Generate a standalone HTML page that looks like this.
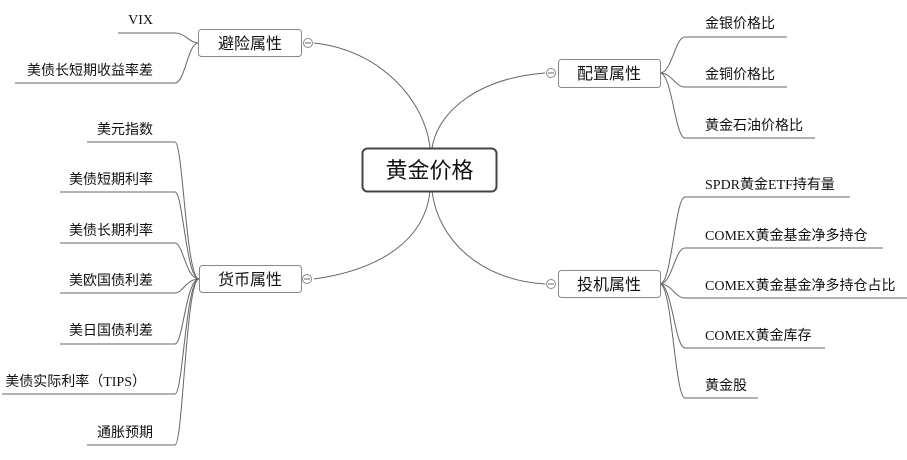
<!DOCTYPE html>
<html><head><meta charset="utf-8"><style>
html,body{margin:0;padding:0;background:#fff;}
svg text{font-family:"Liberation Serif","Noto Sans CJK SC",serif;font-size:14px;fill:#111;}
.b{font-family:"Liberation Sans","Noto Sans CJK SC",sans-serif;font-size:16px;}
</style></head><body>
<svg width="907" height="455" viewBox="0 0 907 455" xmlns="http://www.w3.org/2000/svg">
<g fill="none" stroke="#666" stroke-width="1">
<path d="M314,43 C380,50 425,100 430,148"/>
<path d="M314,279 C380,270 425,240 430,191"/>
<path d="M545,73 C480,78 438,110 432,148"/>
<path d="M545,284 C480,280 438,240 432,191"/>
<path d="M118,33 L175,33 C185,33 190,43 198,43"/>
<path d="M15,83 L175,83 C185,83 188,43 198,43"/>
<path d="M87,142 L175,142 C183,142 186,279 199,279"/>
<path d="M60,192 L175,192 C183,192 186,279 199,279"/>
<path d="M60,243 L175,243 C183,243 186,279 199,279"/>
<path d="M60,293 L175,293 C183,293 186,279 199,279"/>
<path d="M60,344 L175,344 C183,344 186,279 199,279"/>
<path d="M2,394 L175,394 C183,394 186,279 199,279"/>
<path d="M87,445 L175,445 C183,445 186,279 199,279"/>
<path d="M660,73 C672,73 675,37 685,37 L787,37"/>
<path d="M660,73 C672,73 675,87 685,87 L787,87"/>
<path d="M660,73 C672,73 675,138 685,138 L815,138"/>
<path d="M660,284 C672,284 675,197 685,197 L850,197"/>
<path d="M660,284 C672,284 675,248 685,248 L883,248"/>
<path d="M660,284 C672,284 675,298 685,298 L907,298"/>
<path d="M660,284 C672,284 675,348 685,348 L825,348"/>
<path d="M660,284 C672,284 675,398 685,398 L758,398"/>
</g>
<rect x="362.5" y="148.5" width="134" height="43" rx="5" fill="#fff" stroke="#444" stroke-width="2"/>
<text x="429.5" y="178" text-anchor="middle" class="b" style="font-size:22px">黄金价格</text>
<g fill="#fff" stroke="#888">
<rect x="198.5" y="29.5" width="103" height="27" rx="3"/>
<rect x="199.5" y="265.5" width="102" height="27" rx="3"/>
<rect x="558.5" y="59.5" width="102" height="28" rx="3"/>
<rect x="558.5" y="270.5" width="102" height="27" rx="3"/>
<circle cx="308" cy="43" r="4.5"/>
<circle cx="307" cy="279" r="4.5"/>
<circle cx="551" cy="73" r="4.5"/>
<circle cx="551" cy="284" r="4.5"/>
</g>
<g stroke="#666"><path d="M305,43h6M304,279h6M548,73h6M548,284h6"/></g>
<text x="250" y="49" text-anchor="middle" class="b">避险属性</text>
<text x="250" y="285" text-anchor="middle" class="b">货币属性</text>
<text x="609" y="79" text-anchor="middle" class="b">配置属性</text>
<text x="609" y="290" text-anchor="middle" class="b">投机属性</text>
<g text-anchor="end">
<text x="153" y="24">VIX</text>
<text x="153" y="75">美债长短期收益率差</text>
<text x="153" y="134">美元指数</text>
<text x="153" y="184">美债短期利率</text>
<text x="153" y="235">美债长期利率</text>
<text x="153" y="285">美欧国债利差</text>
<text x="153" y="335">美日国债利差</text>
<text x="146" y="386">美债实际利率（TIPS）</text>
<text x="153" y="437">通胀预期</text>
</g>
<text x="705" y="28">金银价格比</text>
<text x="705" y="79">金铜价格比</text>
<text x="705" y="130">黄金石油价格比</text>
<text x="705" y="189">SPDR黄金ETF持有量</text>
<text x="705" y="240">COMEX黄金基金净多持仓</text>
<text x="705" y="290">COMEX黄金基金净多持仓占比</text>
<text x="705" y="340">COMEX黄金库存</text>
<text x="705" y="390">黄金股</text>
</svg>
</body></html>
